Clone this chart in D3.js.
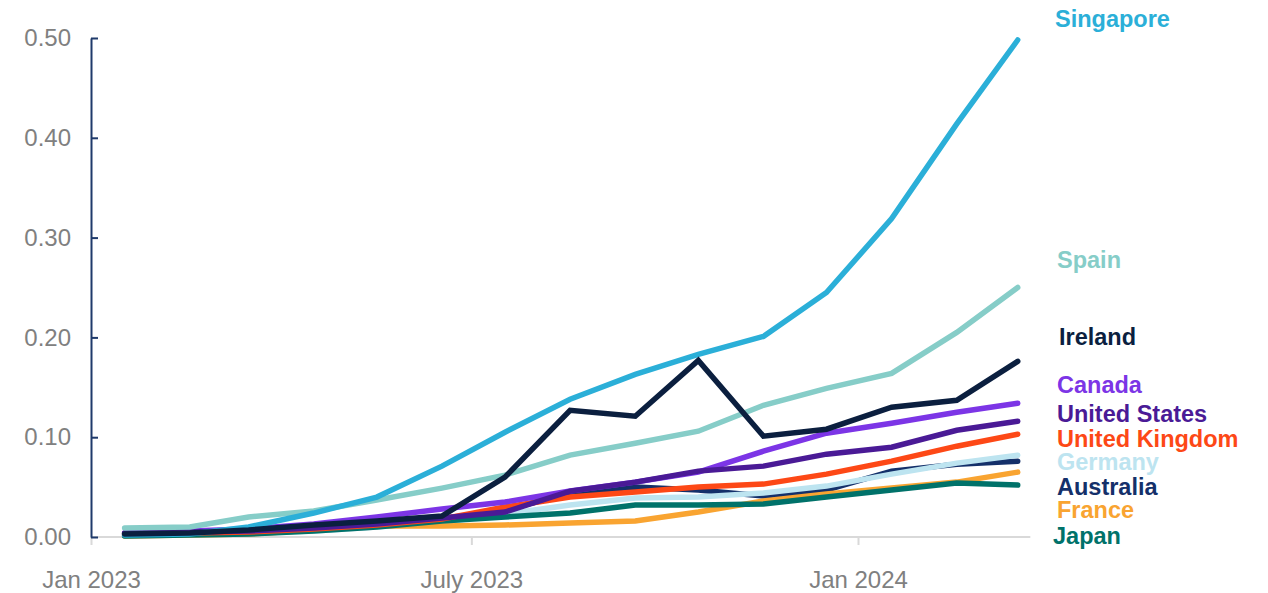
<!DOCTYPE html>
<html>
<head>
<meta charset="utf-8">
<script src="https://cdn.jsdelivr.net/npm/d3@7"></script>
<style>
  body { margin: 0; background: #fff; }
  svg { font-family: "Liberation Sans", Arial, sans-serif; }
</style>
</head>
<body>
<div id="chart"></div>
<script>
// monthly observations, Jan 2023 .. Mar 2024
var months = ["2023-01","2023-02","2023-03","2023-04","2023-05","2023-06","2023-07","2023-08",
              "2023-09","2023-10","2023-11","2023-12","2024-01","2024-02","2024-03"];

var countries = ["Singapore","Spain","Ireland","Canada","United States","United Kingdom",
                 "Germany","Australia","France","Japan"];

var singapore = [0.002,0.003,0.010,0.024,0.040,0.071,0.105,0.138,0.163,0.183,0.201,0.245,0.319,0.414,0.498];
var spain     = [0.009,0.010,0.020,0.026,0.037,0.049,0.062,0.082,0.094,0.106,0.132,0.149,0.164,0.205,0.250];
var ireland   = [0.003,0.004,0.007,0.012,0.016,0.021,0.060,0.127,0.121,0.177,0.101,0.108,0.130,0.137,0.176];
var canada    = [0.004,0.006,0.008,0.013,0.020,0.028,0.035,0.046,0.055,0.065,0.086,0.104,0.114,0.125,0.134];
var us        = [0.004,0.005,0.006,0.009,0.013,0.019,0.025,0.046,0.055,0.066,0.071,0.083,0.090,0.107,0.116];
var uk        = [0.003,0.004,0.005,0.008,0.012,0.018,0.030,0.040,0.045,0.050,0.053,0.063,0.076,0.091,0.103];
var germany   = [0.002,0.003,0.004,0.006,0.010,0.015,0.023,0.032,0.039,0.040,0.044,0.051,0.063,0.074,0.082];
var australia = [0.003,0.004,0.005,0.008,0.012,0.018,0.027,0.044,0.050,0.047,0.041,0.047,0.066,0.073,0.076];
var france    = [0.001,0.002,0.003,0.007,0.011,0.011,0.012,0.014,0.016,0.025,0.036,0.043,0.049,0.055,0.065];
var japan     = [0.001,0.002,0.003,0.006,0.010,0.016,0.020,0.024,0.032,0.032,0.033,0.040,0.047,0.054,0.052];

var yTicks = [0, 0.1, 0.2, 0.3, 0.4, 0.5];
var xTickDates = ["2023-01","2023-07","2024-01"];
var xTickLabels = ["Jan 2023","July 2023","Jan 2024"];

var colors = {
  "Singapore": "#2bafd8", "Spain": "#86cdc8", "Ireland": "#0b1f3f", "Canada": "#7c35e6",
  "United States": "#4a1a96", "United Kingdom": "#fd4816", "Germany": "#bde4f0",
  "Australia": "#14306a", "France": "#f9a431", "Japan": "#00726a"
};
// where the end labels sit (pixels)
var labelY = {
  "Singapore": 19, "Spain": 260, "Ireland": 337, "Canada": 385, "United States": 414,
  "United Kingdom": 439, "Germany": 462, "Australia": 487, "France": 510, "Japan": 536
};
var labelX = { "Singapore": 1055, "Ireland": 1059, "Japan": 1053 };

var values = {
  "Singapore": singapore, "Spain": spain, "Ireland": ireland, "Canada": canada,
  "United States": us, "United Kingdom": uk, "Germany": germany, "Australia": australia,
  "France": france, "Japan": japan
};
// paint order (last is on top)
var drawOrder = ["Australia","Germany","France","Japan","United Kingdom","Canada",
                 "United States","Spain","Singapore","Ireland"];

var W = 1268, H = 593;
var parseM = d3.timeParse("%Y-%m");
var mid = function(s) { return d3.timeDay.offset(parseM(s), 16); };

var x = d3.scaleTime()
    .domain([parseM("2023-01"), parseM("2024-01")])
    .range([91, 858]);
var y = d3.scaleLinear().domain([0, 0.5]).range([537, 38]);

var svg = d3.select("#chart").append("svg")
    .attr("width", W)
    .attr("height", H);

// x baseline
svg.append("line")
    .attr("x1", x.range()[0]).attr("x2", x(d3.timeDay.offset(parseM("2024-03"), 22)))
    .attr("y1", y(0)).attr("y2", y(0))
    .attr("stroke", "#d9d9d9").attr("stroke-width", 2);

var xAxis = d3.axisBottom(x)
    .tickValues(xTickDates.map(parseM))
    .tickFormat(function(d, i) { return xTickLabels[i]; })
    .tickSizeInner(8).tickSizeOuter(0).tickPadding(26);

var gx = svg.append("g")
    .attr("transform", "translate(0," + y(0) + ")")
    .call(xAxis);
gx.select(".domain").remove();
gx.selectAll(".tick line").attr("stroke", "#d9d9d9").attr("stroke-width", 2);
gx.selectAll(".tick text").attr("fill", "#808080").style("font-size", "24px");

var yAxis = d3.axisLeft(y)
    .tickValues(yTicks)
    .tickFormat(d3.format(".2f"))
    .tickSizeInner(-7).tickSizeOuter(0).tickPadding(20);

var gy = svg.append("g")
    .attr("transform", "translate(91,0)")
    .call(yAxis);
gy.select(".domain").attr("stroke", "#1f3a6b").attr("stroke-width", 2);
gy.selectAll(".tick line").attr("stroke", "#1f3a6b").attr("stroke-width", 2);
gy.selectAll(".tick text").attr("fill", "#808080").style("font-size", "24px");

var line = d3.line()
    .x(function(d) { return x(d.date); })
    .y(function(d) { return y(d.v); });

svg.append("g").selectAll("path")
    .data(drawOrder)
  .enter().append("path")
    .attr("d", function(c) {
      return line(values[c].map(function(v, i) { return { date: mid(months[i]), v: v }; }));
    })
    .attr("fill", "none")
    .attr("stroke", function(c) { return colors[c]; })
    .attr("stroke-width", 5.5)
    .attr("stroke-linecap", "round")
    .attr("stroke-linejoin", "miter");

svg.append("g").selectAll("text")
    .data(countries)
  .enter().append("text")
    .attr("x", function(c) { return labelX[c] || 1057; })
    .attr("y", function(c) { return labelY[c]; })
    .attr("dy", "0.35em")
    .attr("fill", function(c) { return colors[c]; })
    .style("font-size", "23.5px")
    .style("font-weight", "bold")
    .text(function(c) { return c; });
</script>
</body>
</html>
